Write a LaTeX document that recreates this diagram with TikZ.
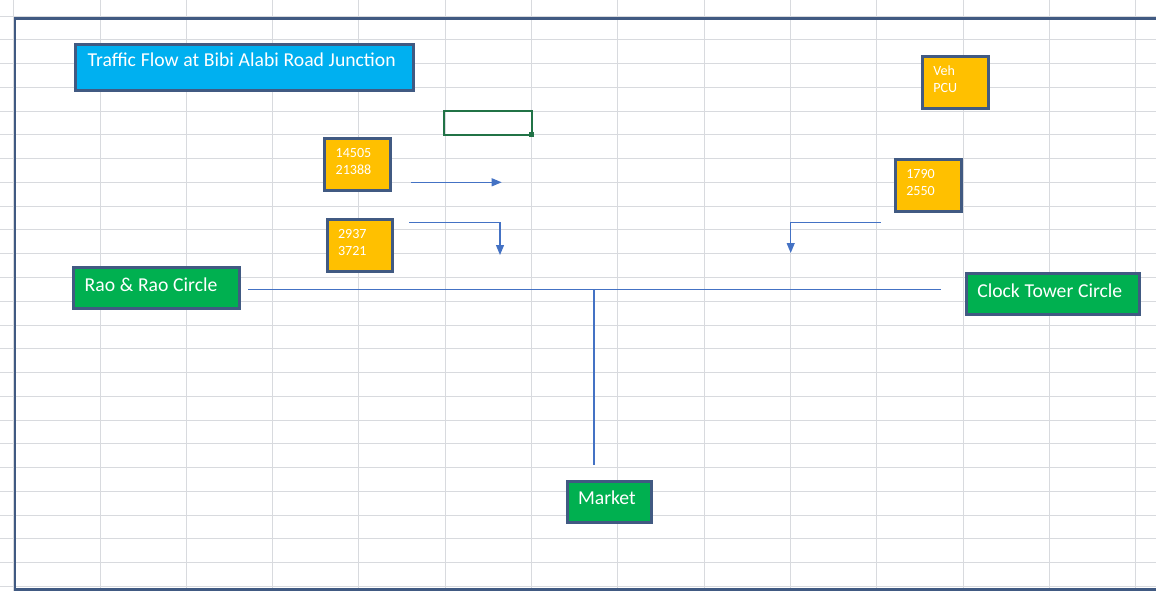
\documentclass[tikz,border=0pt]{standalone}
\usepackage{fontspec}
\setmainfont{Carlito}
\usetikzlibrary{arrows.meta}
\definecolor{gridgray}{RGB}{216,218,222}
\definecolor{outline}{RGB}{65,90,130}
\definecolor{skyblue}{RGB}{0,176,240}
\definecolor{leafgreen}{RGB}{0,176,80}
\definecolor{amber}{RGB}{255,192,0}
\definecolor{flowblue}{RGB}{68,114,196}
\definecolor{cellgreen}{RGB}{33,115,70}

\begin{document}
\begin{tikzpicture}[x=0.02cm,y=-0.02cm,
    shape box/.style={draw=outline,line width=0.06cm,anchor=north west,
      text=white,inner ysep=0pt},
    one line/.style={execute at begin node={\hbox\bgroup\spaceskip=0.24em\relax},
      execute at end node={\egroup}},
    title box/.style={shape box,one line,fill=skyblue,font=\fontsize{11.2}{13.4}\selectfont,
      inner xsep=0.24cm,text width=6.28cm,text height=0.436cm,text depth=0.484cm},
    place box/.style={shape box,one line,fill=leafgreen,font=\fontsize{11.2}{13.4}\selectfont,
      inner xsep=0.22cm,text width=#1,text height=0.47cm,text depth=0.35cm},
    count box/.style={shape box,fill=amber,font=\fontsize{8}{9.5}\selectfont,
      inner xsep=0.22cm,text width=0.88cm,text height=0.38cm,text depth=0.66cm},
    flow/.style={flowblue,line width=0.024cm,-{Triangle[length=0.2cm,width=0.16cm]}},
    road/.style={flowblue,line width=0.024cm}]
    \useasboundingbox (0,0) rectangle (1156,591);
    \clip (0,0) rectangle (1156,591);
    % sheet grid
      \foreach \gx in {0,...,13}
        \draw[gridgray,line width=0.02cm] ({13.7+86.3*\gx},0) -- ++(0,591);
      \foreach \gy in {0,...,24}
        \draw[gridgray,line width=0.02cm] (0,{16.25+23.75*\gy}) -- ++(1156,0);
      \draw[outline,line width=0.06cm] (1170,18.3) -- (15,18.3) -- (15,589.5) -- (1170,589.5);
      % active cell
      \draw[cellgreen,line width=0.04cm] (444,110.7) rectangle (531.7,134.7);
      \fill[cellgreen] (528.7,132) rectangle (534.3,137.5);
    % nodes
      \node[title box] (0) at (74.2,43.2) {Traffic Flow at Bibi Alabi Road Junction};
      \node[count box] (1) at (323.2,137.2) {14505\\21388};
      \node[count box] (2) at (325.5,218.2) {2937\\3721};
      \node[count box] (3) at (920.8,55.5) {Veh\\PCU};
      \node[count box] (4) at (893.8,158.2) {1790\\2550};
      \node[place box=2.886cm] (5) at (72.2,266.5) {Rao \& Rao Circle};
      \node[place box=3.02cm] (6) at (964.8,272.2) {Clock Tower Circle};
      \node[place box=1.254cm] (7) at (565.5,479.8) {Market};
      \coordinate (10) at (411,182.3);
      \coordinate (11) at (501.7,182.3);
      \coordinate (12) at (409,222.3);
      \coordinate (13) at (500,255);
      \coordinate (14) at (880.7,222.3);
      \coordinate (15) at (790.7,253);
      \coordinate (16) at (248,289.3);
      \coordinate (17) at (941,289.3);
      \coordinate (18) at (594,465);
    %edges
      \draw[flow] (10) -- (11);
      \draw[flow] (12) -| (13);
      \draw[flow] (14) -| (15);
      \draw[road] (16) -- (17);
      \draw[road] (18 |- 16) -- (18);
\end{tikzpicture}
\end{document}
